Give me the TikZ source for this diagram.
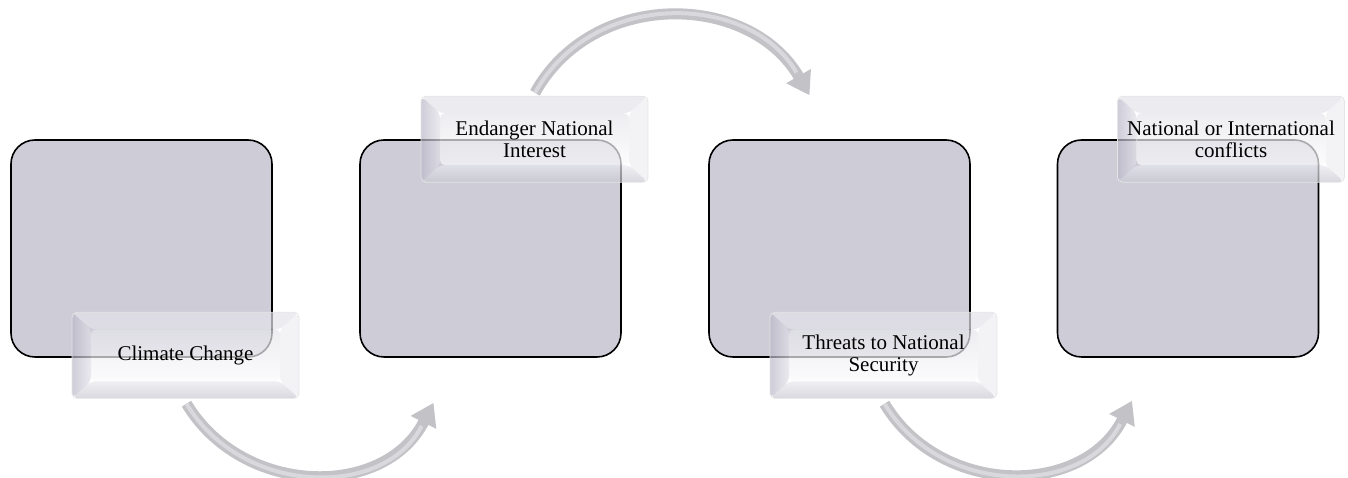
\documentclass[tikz,border=0pt]{standalone}
\usepackage{fontspec}
\setmainfont{Liberation Serif}
\usetikzlibrary{arrows.meta,calc}
\definecolor{boxfill}{HTML}{CDCCD7}
\definecolor{arrowgray}{HTML}{C2C2C7}
\definecolor{arrowlight}{HTML}{D9D9DD}
\definecolor{faceTop}{HTML}{E6E6EB}
\definecolor{faceBot}{HTML}{FAFAFC}
\definecolor{bevTop}{HTML}{E4E4EA}
\definecolor{bevRight}{HTML}{EEEEF2}
\definecolor{bevLeftOut}{HTML}{BAB8C8}
\definecolor{bevLeftIn}{HTML}{E2E1E8}
\definecolor{bevBotOut}{HTML}{C8C8D1}
\definecolor{bevBotIn}{HTML}{E8E8EE}
\tikzset{
  bigbox/.style={rectangle, rounded corners=24pt, minimum width=261pt,
    minimum height=217pt, fill=boxfill, draw=black, line width=1.6pt},
  labelbox/.style={rectangle, rounded corners=5pt, minimum width=227pt,
    minimum height=86pt, inner sep=0pt, align=center,
    font=\fontsize{21}{21.5}\selectfont, draw=black!10, line width=0.8pt,
    path picture={
      \coordinate (PA) at (path picture bounding box.north west);
      \coordinate (PB) at (path picture bounding box.north east);
      \coordinate (PC) at (path picture bounding box.south east);
      \coordinate (PD) at (path picture bounding box.south west);
      \coordinate (Pa) at ($(PA)+(19pt,-17pt)$);
      \coordinate (Pb) at ($(PB)+(-19pt,-17pt)$);
      \coordinate (Pc) at ($(PC)+(-19pt,17pt)$);
      \coordinate (Pd) at ($(PD)+(19pt,17pt)$);
      \shade[top color=faceTop, bottom color=faceBot, fill opacity=0.7] (Pa) rectangle (Pc);
      \fill[bevTop, fill opacity=0.7] (PA) -- (PB) -- (Pb) -- (Pa) -- cycle;
      \fill[bevRight, fill opacity=0.7] (PB) -- (PC) -- (Pc) -- (Pb) -- cycle;
      \shade[top color=bevBotIn, bottom color=bevBotOut, fill opacity=0.7] (PD) -- (PC) -- (Pc) -- (Pd) -- cycle;
      \shade[left color=bevLeftOut, right color=bevLeftIn, fill opacity=0.7] (PA) -- (Pa) -- (Pd) -- (PD) -- cycle;
    }},
  flowarrow/.style={line width=11pt, draw=arrowgray,
    -{Triangle[length=22pt,width=27pt]}},
  arrowshine/.style={line width=4pt, draw=arrowlight, shorten >=26pt},
}
\begin{document}
\begin{tikzpicture}[x=1pt,y=1pt]
\useasboundingbox (0,0) rectangle (1348,478);
% big boxes
\node[bigbox] (b1) at (141.5,229.5) {};
\node[bigbox] (b2) at (490.5,229.5) {};
\node[bigbox] (b3) at (839.5,229.5) {};
\node[bigbox] (b4) at (1188,229.5) {};
% labels
\node[labelbox] (l1) at ([xshift=44pt,yshift=2.5pt]b1.south) {Climate Change};
\node[labelbox] (l2) at ([xshift=44pt]b2.north) {Endanger National\\Interest};
\node[labelbox] (l3) at ([xshift=44pt,yshift=2.5pt]b3.south) {Threats to National\\Security};
\node[labelbox] (l4) at ([xshift=43pt]b4.north) {National or International\\conflicts};
% arrow ends
\coordinate (t1) at ([shift={(1pt,-5pt)}]l1.south);
\coordinate (h1) at ([shift={(-57pt,-45pt)}]b2.south);
\coordinate (t2) at ([shift={(0.5pt,3pt)}]l2.north);
\coordinate (h2) at ([shift={(-30pt,44pt)}]b3.north);
\coordinate (t3) at ([shift={(1pt,-5pt)}]l3.south);
\coordinate (h3) at ([shift={(-56pt,-43pt)}]b4.south);
% arrows
\draw[flowarrow] (t1) to[out=-59,in=243,looseness=1.12] (h1);
\draw[arrowshine] (t1) to[out=-59,in=243,looseness=1.12] (h1);
\draw[flowarrow] (t2) to[out=61,in=120,looseness=1.11] (h2);
\draw[arrowshine] (t2) to[out=61,in=120,looseness=1.11] (h2);
\draw[flowarrow] (t3) to[out=-59,in=243,looseness=1.12] (h3);
\draw[arrowshine] (t3) to[out=-59,in=243,looseness=1.12] (h3);
\end{tikzpicture}
\end{document}
